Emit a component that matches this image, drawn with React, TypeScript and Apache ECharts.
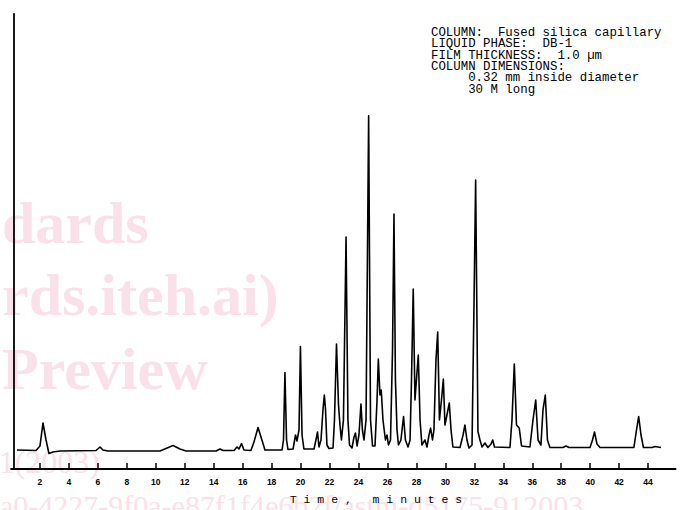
import React, { useEffect, useRef } from "react";
import * as echarts from "echarts";

// Chromatogram trace: [retention time (min), detector response]
const chromatogram: [number, number][] = [
  [0.41, 17], [1.73, 16.5], [2.0, 21], [2.21, 44], [2.42, 27], [2.62, 13.5], [2.9, 15], [3.38, 16],
  [5.87, 16.5], [6.15, 20], [6.35, 17], [6.7, 16],
  [10.29, 16], [10.7, 18.5], [11.19, 21.5], [11.67, 18], [12.09, 16],
  [14.16, 16], [14.43, 18], [14.64, 16.5], [15.4, 16.5], [15.61, 20], [15.75, 18], [15.92, 23.5], [16.09, 17],
  [16.57, 16.5], [16.78, 25], [17.06, 39.5], [17.33, 27], [17.54, 17],
  [18.72, 17], [18.82, 27], [18.92, 94.5], [19.03, 27], [19.13, 17.5],
  [19.48, 18], [19.65, 32], [19.75, 26], [19.89, 37], [19.99, 120.5], [20.1, 32], [20.23, 18],
  [20.93, 18], [21.06, 27], [21.17, 35], [21.27, 20], [21.41, 27], [21.55, 58], [21.64, 72], [21.72, 58],
  [21.82, 22], [21.96, 18.5], [22.24, 19], [22.34, 47], [22.48, 123], [22.62, 62], [22.72, 42], [22.82, 27],
  [22.96, 47], [23.14, 230], [23.27, 47], [23.38, 22], [23.55, 19], [23.69, 30], [23.79, 34], [23.9, 21],
  [24.03, 32], [24.17, 63], [24.27, 37], [24.38, 27], [24.52, 47], [24.7, 351.3], [24.83, 47], [24.97, 21],
  [25.14, 21], [25.28, 67], [25.37, 108], [25.48, 72], [25.57, 77], [25.69, 47], [25.86, 27], [25.97, 32],
  [26.07, 22], [26.21, 27], [26.35, 117], [26.45, 253], [26.55, 87], [26.66, 37], [26.76, 22], [26.93, 27],
  [27.11, 50.5], [27.24, 27], [27.42, 20], [27.56, 27], [27.66, 87], [27.78, 178], [27.9, 67], [28.0, 87],
  [28.13, 112], [28.25, 47], [28.38, 22], [28.59, 27], [28.73, 20], [28.87, 32], [28.98, 39], [29.11, 27],
  [29.21, 37], [29.35, 107], [29.47, 135], [29.59, 47], [29.73, 67], [29.86, 88], [29.97, 42], [30.11, 52],
  [30.27, 64], [30.39, 37], [30.52, 20], [31.01, 19.5], [31.22, 32], [31.35, 42], [31.49, 27], [31.63, 19],
  [31.84, 22], [31.98, 167], [32.09, 287], [32.18, 147], [32.25, 35.5], [32.39, 27], [32.53, 20], [32.73, 24],
  [32.94, 19.5], [33.15, 23], [33.27, 27], [33.39, 20], [34.46, 19.5], [34.6, 47], [34.76, 103], [34.91, 42],
  [35.1, 39], [35.26, 21], [35.84, 20], [36.05, 47], [36.24, 67], [36.4, 27], [36.6, 22], [36.74, 57],
  [36.9, 72], [37.05, 27], [37.22, 19.5], [38.12, 19.5], [38.33, 21], [38.54, 19.5],
  [39.99, 19.5], [40.16, 27], [40.3, 35], [40.47, 23], [40.68, 19.5],
  [43.02, 19.5], [43.2, 37], [43.35, 50.5], [43.51, 32], [43.68, 19.5],
  [44.27, 19.5], [44.48, 20.5], [44.89, 19.5],
];

const tickMinutes = [2, 4, 6, 8, 10, 12, 14, 16, 18, 20, 22, 24, 26, 28, 30, 32, 34, 36, 38, 40, 42, 44];

const axisTitle = "T i m e ,   m i n u t e s";

const conditionLines = [
  "COLUMN:  Fused silica capillary",
  "LIQUID PHASE:  DB-1",
  "FILM THICKNESS:  1.0 \u00b5m",
  "COLUMN DIMENSIONS:",
  "     0.32 mm inside diameter",
  "     30 M long",
];

const watermarkLines = ["dards", "rds.iteh.ai)", "Preview"];
const watermarkFooter = "a0-4227-9f0a-e87f1f4e6b2f/astm-d5175-912003";
const watermarkCorner = "21(2003)";

export default function App() {
  const ref = useRef<HTMLDivElement>(null);

  useEffect(() => {
    if (!ref.current) return;
    const chart = echarts.init(ref.current, null, { renderer: "svg" });
    const pink = "#fae1e9";
    const wmY = [223, 295, 369];
    chart.setOption({
      animation: false,
      backgroundColor: "#ffffff",
      grid: { left: 11, right: 5.4, top: 14, bottom: 41 },
      xAxis: {
        type: "value",
        min: 0,
        max: 45.9,
        interval: 2,
        splitLine: { show: false },
        axisLine: { show: true, onZero: false, lineStyle: { color: "#000", width: 1.8 } },
        axisTick: { show: true, inside: true, length: 6, lineStyle: { color: "#000", width: 1.5 } },
        axisLabel: {
          show: true,
          margin: 8,
          fontSize: 8.5,
          fontWeight: "bold",
          fontFamily: "Liberation Sans",
          color: "#000",
          showMinLabel: false,
          showMaxLabel: false,
          formatter: (v: number) => (tickMinutes.includes(v) ? String(v) : ""),
        },
      },
      yAxis: {
        type: "value",
        min: -2,
        max: 453,
        offset: -3,
        splitLine: { show: false },
        axisLine: { show: true, lineStyle: { color: "#000", width: 1.8 } },
        axisTick: { show: false },
        axisLabel: { show: false },
      },
      graphic: [
        ...watermarkLines.map((t, i) => ({
          type: "text",
          z: 0,
          silent: true,
          x: 2,
          y: wmY[i],
          style: {
            text: t,
            fill: pink,
            font: "bold 60px 'Liberation Serif'",
            verticalAlign: "middle",
            align: "left",
          },
        })),
        {
          type: "text",
          z: 0,
          silent: true,
          x: 100,
          y: 462,
          style: {
            text: watermarkCorner,
            fill: pink,
            font: "32px 'Liberation Serif'",
            verticalAlign: "middle",
            align: "right",
          },
        },
        {
          type: "text",
          z: 0,
          silent: true,
          x: 0,
          y: 505,
          style: {
            text: watermarkFooter,
            fill: pink,
            font: "30px 'Liberation Serif'",
            verticalAlign: "middle",
            align: "left",
          },
        },
        {
          type: "text",
          z: 10,
          x: 431,
          y: 27,
          style: {
            text: conditionLines.join("\n"),
            fill: "#000",
            font: "12.4px 'Liberation Mono'",
            lineHeight: 11.4,
            verticalAlign: "top",
            align: "left",
          },
        },
        {
          type: "text",
          z: 10,
          x: 376,
          y: 499,
          style: {
            text: axisTitle,
            fill: "#000",
            font: "11.5px 'Liberation Mono'",
            verticalAlign: "middle",
            align: "center",
          },
        },
      ],
      series: [
        {
          type: "line",
          data: chromatogram,
          showSymbol: false,
          symbol: "none",
          z: 5,
          lineStyle: { color: "#000", width: 1.6, join: "round" },
        },
      ],
    });
    return () => chart.dispose();
  }, []);

  return <div ref={ref} style={{ width: 681, height: 510, position: "absolute", left: 0, top: 0 }} />;
}
